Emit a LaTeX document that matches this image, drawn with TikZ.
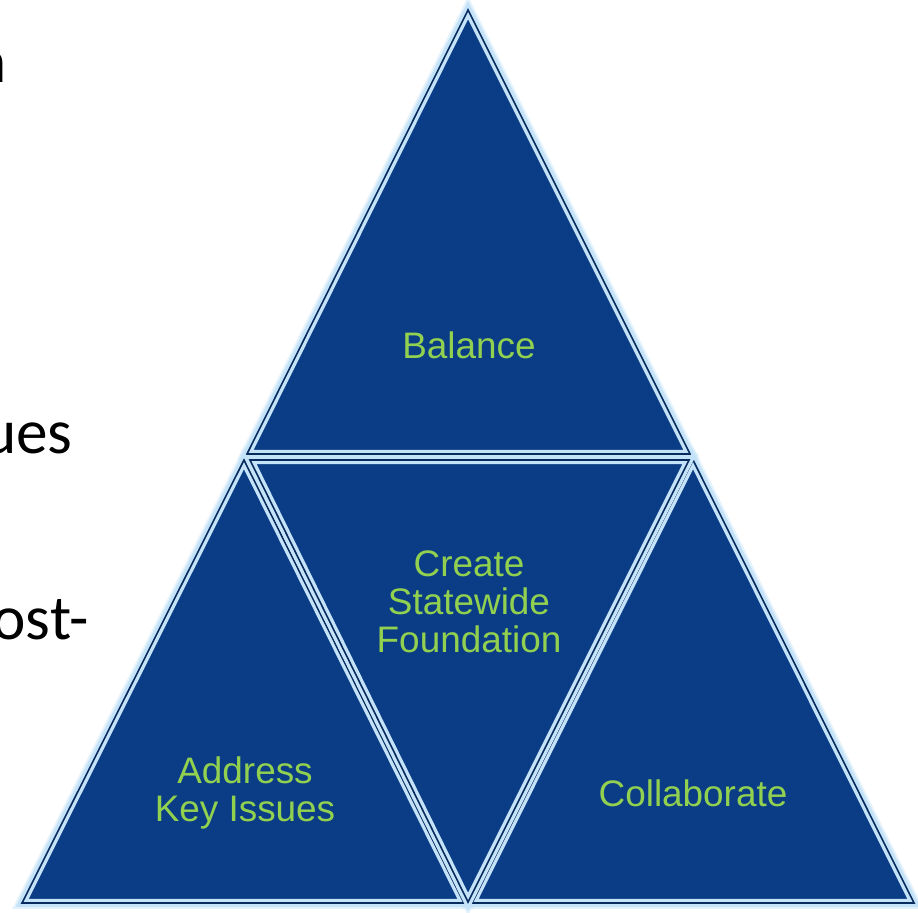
\documentclass[tikz,border=0pt]{standalone}
\usepackage{fontspec}
\setmainfont{Liberation Sans}
\newfontfamily\slidefont{Carlito}
\definecolor{triblue}{HTML}{0B3D86}
\definecolor{trigreen}{HTML}{92D050}
\definecolor{rimblue}{HTML}{C4E2F8}
\begin{document}
\begin{tikzpicture}[x=0.02cm,y=-0.02cm,
glow/.style={draw=rimblue!80!white,line width=7pt,opacity=0.55},
tri/.style={fill=triblue,draw=rimblue,double=triblue!70!black,double distance=0.9pt,line width=1.9pt},
lbl/.style={text=trigreen,font=\fontsize{21}{21.5}\selectfont,align=center},
slide/.style={anchor=base east,inner sep=0pt,font=\slidefont\fontsize{36}{43}\selectfont}]

\useasboundingbox (0,0) rectangle (918,912);
\clip (0,0) rectangle (918,912);

% corners of the four triangles
\coordinate (Ttop) at (468,10);
\coordinate (Tl) at (247,454);
\coordinate (Tr) at (690,454);
\coordinate (Ml) at (250,460);
\coordinate (Mr) at (689,460);
\coordinate (Mb) at (468,902);
\coordinate (Ltop) at (244,460);
\coordinate (Ll) at (22,903);
\coordinate (Lr) at (464,903);
\coordinate (Rtop) at (693,460);
\coordinate (Rl) at (472,903);
\coordinate (Rr) at (914,903);

\draw[glow] (Ttop) -- (Tl) -- (Tr) -- cycle;
\draw[glow] (Ltop) -- (Ll) -- (Lr) -- cycle;
\draw[glow] (Rtop) -- (Rl) -- (Rr) -- cycle;
\draw[glow] (Ml) -- (Mr) -- (Mb) -- cycle;

\draw[tri] (Ttop) -- (Tl) -- (Tr) -- cycle;
\draw[tri] (Ltop) -- (Ll) -- (Lr) -- cycle;
\draw[tri] (Rtop) -- (Rl) -- (Rr) -- cycle;
\draw[tri] (Ml) -- (Mr) -- (Mb) -- cycle;

\node[lbl] (balance) at (469,345) {Balance};
\node[lbl] (create) at (469,602) {Create\\Statewide\\Foundation};
\node[lbl] (address) at (245,793) {Address\\Key Issues};
\node[lbl] (collab) at (693,793) {Collaborate};

% cut-off slide text on the left
\node[slide] (frag1) at (7,83) {n};
\node[slide] (frag2) at (73,453) {ues};
\node[slide] (frag3) at (89,639) {ost-};

\end{tikzpicture}
\end{document}
